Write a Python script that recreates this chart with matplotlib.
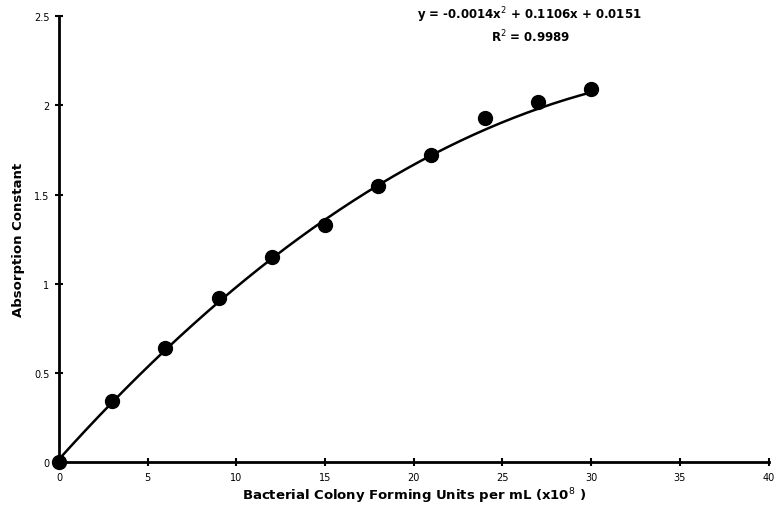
import numpy as np
import matplotlib
matplotlib.use("Agg")
import matplotlib.pyplot as plt

cfu = [0, 3, 6, 9, 12, 15, 18, 21, 24, 27, 30]
absorb = [0.0, 0.34, 0.64, 0.92, 1.15, 1.33, 1.55, 1.72, 1.93, 2.02, 2.09]
coef = [-0.0014, 0.1106, 0.0151]
eq_text = "y = -0.0014x$^2$ + 0.1106x + 0.0151"
r2_text = "R$^2$ = 0.9989"
xticks = [0, 5, 10, 15, 20, 25, 30, 35, 40]
yticks = [0, 0.5, 1, 1.5, 2, 2.5]
ytick_labels = ["0", "0.5", "1", "1.5", "2", "2.5"]

fig = plt.figure(figsize=(7.78, 5.06), dpi=100)
ax = fig.add_axes([0.0758, 0.085, 0.912, 0.881])

xs = np.linspace(0, 30, 200)
ax.plot(xs, np.polyval(coef, xs), color="black", lw=1.8, zorder=2)
ax.plot(cfu, absorb, "o", color="black", ms=10, clip_on=False, zorder=3)

ax.set_xlim(0, 40)
ax.set_ylim(0, 2.5)
ax.set_xticks(xticks)
ax.set_yticks(yticks)
ax.set_yticklabels(ytick_labels)
for s in ["top", "right"]:
    ax.spines[s].set_visible(False)
for s in ["left", "bottom"]:
    ax.spines[s].set_linewidth(2)
ax.tick_params(direction="inout", length=6, width=1.5, labelsize=7, pad=4)

ax.set_xlabel("Bacterial Colony Forming Units per mL (x10$^8$ )", fontsize=9.5,
              fontweight="bold", labelpad=3)
ax.set_ylabel("Absorption Constant", fontsize=9.5, fontweight="bold", labelpad=6)

fig.text(0.681, 0.970, eq_text, ha="center", va="center", fontsize=8.5, fontweight="bold")
fig.text(0.682, 0.927, r2_text, ha="center", va="center", fontsize=8.5, fontweight="bold")

fig.savefig("out.png", dpi=100)
